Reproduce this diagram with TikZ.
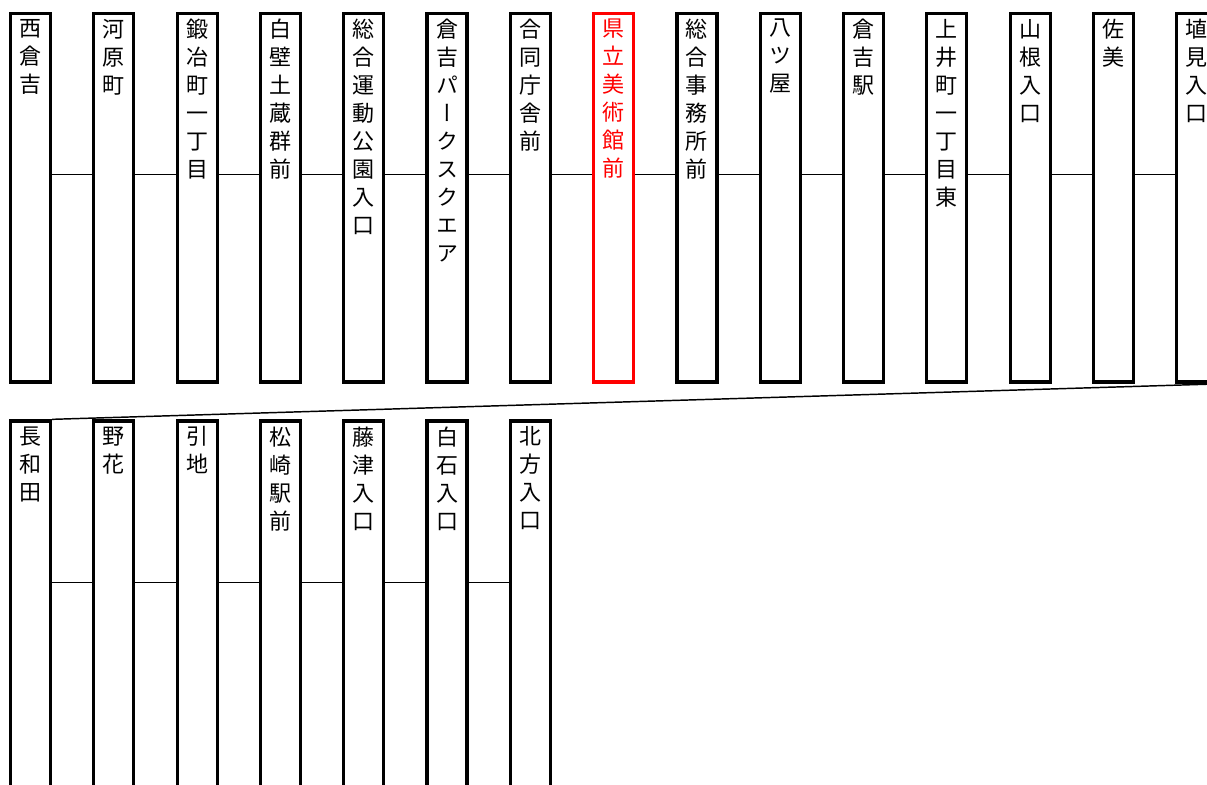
\documentclass[tikz,border=0pt]{standalone}
\usepackage{fontspec}
\newfontfamily\jpfont[RawFeature=+vert]{Noto Sans CJK JP}
\usetikzlibrary{calc}

\tikzset{
  stopbox/.style={draw, line width=2.4pt, minimum width=30pt, minimum height=276.4pt, inner sep=0pt},
  stopname/.style={anchor=north, align=center, inner sep=0pt, font=\jpfont\fontsize{16.5}{21}\selectfont},
  link/.style={line width=1.1pt}
}

\begin{document}
\begin{tikzpicture}[x=0.75pt, y=-0.75pt]
\useasboundingbox (0,0) rectangle (1207,785);

% First row
\foreach \name/\col [count=\i] in {西\\倉\\吉/black, 河\\原\\町/black, 鍛\\冶\\町\\一\\丁\\目/black,
  白\\壁\\土\\蔵\\群\\前/black, 総\\合\\運\\動\\公\\園\\入\\口/black, 倉\\吉\\パ\\ー\\ク\\ス\\ク\\エ\\ア/black,
  合\\同\\庁\\舎\\前/black, 県\\立\\美\\術\\館\\前/red, 総\\合\\事\\務\\所\\前/black, 八\\ツ\\屋/black,
  倉\\吉\\駅/black, 上\\井\\町\\一\\丁\\目\\東/black, 山\\根\\入\\口/black, 佐\\美/black, 埴\\見\\入\\口/black}
{
  \node[stopbox, draw=\col] (a\i) at ({30.5+83.3*(\i-1)},197.7) {};
  \node[stopname, text=\col] (a\i-name) at ($(a\i.north)+(0,7)$) {\name};
}
\foreach \i [evaluate=\i as \j using int(\i+1)] in {1,...,14}
  \draw[link] (a\i.east |- 0,174.5) -- (a\j.west |- 0,174.5);

% Second row
\foreach \name [count=\i] in {長\\和\\田, 野\\花, 引\\地, 松\\崎\\駅\\前, 藤\\津\\入\\口, 白\\石\\入\\口, 北\\方\\入\\口}
{
  \node[stopbox] (b\i) at ({30.5+83.3*(\i-1)},605.2) {};
  \node[stopname] (b\i-name) at ($(b\i.north)+(0,7)$) {\name};
}
\foreach \i [evaluate=\i as \j using int(\i+1)] in {1,...,6}
  \draw[link] (b\i.east |- 0,582.5) -- (b\j.west |- 0,582.5);

% Wrap to second row
\coordinate (wrap) at (1280.5,382);
\draw[link] (wrap) -- (b1.north east);
\end{tikzpicture}
\end{document}
